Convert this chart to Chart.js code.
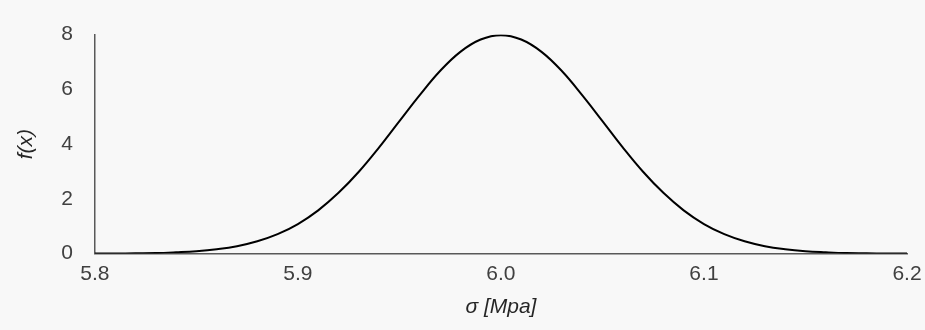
<!DOCTYPE html>
<html>
<head>
<meta charset="utf-8">
<script src="https://cdn.jsdelivr.net/npm/chart.js@4"></script>
<style>
  html, body { margin: 0; padding: 0; background: #f8f8f8; }
  #wrap { width: 925px; height: 330px; }
</style>
</head>
<body>
<div id="wrap"><canvas id="curveChart"></canvas></div>
<script>
// sigma values (MPa) and f(x)
const sigmaValues = [
  5.80, 5.81, 5.82, 5.83, 5.84, 5.85, 5.86, 5.87, 5.88, 5.89,
  5.90, 5.91, 5.92, 5.93, 5.94, 5.95, 5.96, 5.97, 5.98, 5.99,
  6.00, 6.01, 6.02, 6.03, 6.04, 6.05, 6.06, 6.07, 6.08, 6.09,
  6.10, 6.11, 6.12, 6.13, 6.14, 6.15, 6.16, 6.17, 6.18, 6.19, 6.20
];
const fxValues = [
  0.00, 0.00, 0.01, 0.02, 0.05, 0.09, 0.16, 0.27, 0.45, 0.71,
  1.08, 1.58, 2.22, 2.99, 3.88, 4.84, 5.79, 6.67, 7.37, 7.82,
  7.98, 7.82, 7.37, 6.67, 5.79, 4.84, 3.88, 2.99, 2.22, 1.58,
  1.08, 0.71, 0.45, 0.27, 0.16, 0.09, 0.05, 0.02, 0.01, 0.00, 0.00
];
const xTicks = [5.8, 5.9, 6.0, 6.1, 6.2];
const yTicks = [0, 2, 4, 6, 8];

const points = sigmaValues.map((s, i) => ({ x: s, y: fxValues[i] }));

const bgPlugin = {
  id: "bg",
  beforeDraw(chart) {
    const ctx = chart.ctx;
    ctx.save();
    ctx.fillStyle = "#f8f8f8";
    ctx.fillRect(0, 0, chart.width, chart.height);
    ctx.restore();
  },
};

const curveChart = document.querySelector("#curveChart");
const myChart = new Chart(curveChart, {
  type: "line",
  data: {
    datasets: [
      {
        data: points,
        borderColor: "#000000",
        borderWidth: 2,
        pointRadius: 0,
        tension: 0.4,
        fill: false,
      },
    ],
  },
  options: {
    responsive: true,
    maintainAspectRatio: false,
    animation: false,
    layout: {
      padding: { top: 32, right: 0, left: 14, bottom: 10 },
    },
    plugins: {
      legend: { display: false },
      tooltip: { enabled: false },
    },
    scales: {
      x: {
        type: "linear",
        min: 5.8,
        max: 6.2,
        afterBuildTicks: (axis) => {
          axis.ticks = xTicks.map((v) => ({ value: v }));
        },
        afterFit: (axis) => {
          axis.paddingRight = 18;
        },
        grid: { display: false, drawTicks: false },
        border: { display: true, color: "#595959", width: 1.5 },
        ticks: {
          color: "#404040",
          font: { family: "Liberation Sans, Arial", size: 21 },
          padding: 8,
          maxRotation: 0,
          callback: (v) => v.toFixed(1),
        },
        title: {
          display: true,
          text: "σ [Mpa]",
          color: "#262626",
          font: { family: "Liberation Sans, Arial", size: 21, style: "italic" },
          padding: { top: 0, bottom: 0 },
        },
      },
      y: {
        min: 0,
        max: 8,
        afterBuildTicks: (axis) => {
          axis.ticks = yTicks.map((v) => ({ value: v }));
        },
        grid: { display: false, drawTicks: false },
        border: { display: true, color: "#595959", width: 1.5 },
        ticks: {
          color: "#404040",
          font: { family: "Liberation Sans, Arial", size: 21 },
          padding: 22,
        },
        title: {
          display: true,
          text: "f(x)",
          color: "#262626",
          font: { family: "Liberation Sans, Arial", size: 21, style: "italic" },
          padding: { top: 0, bottom: 0 },
        },
      },
    },
  },
  plugins: [bgPlugin],
});
</script>
</body>
</html>
